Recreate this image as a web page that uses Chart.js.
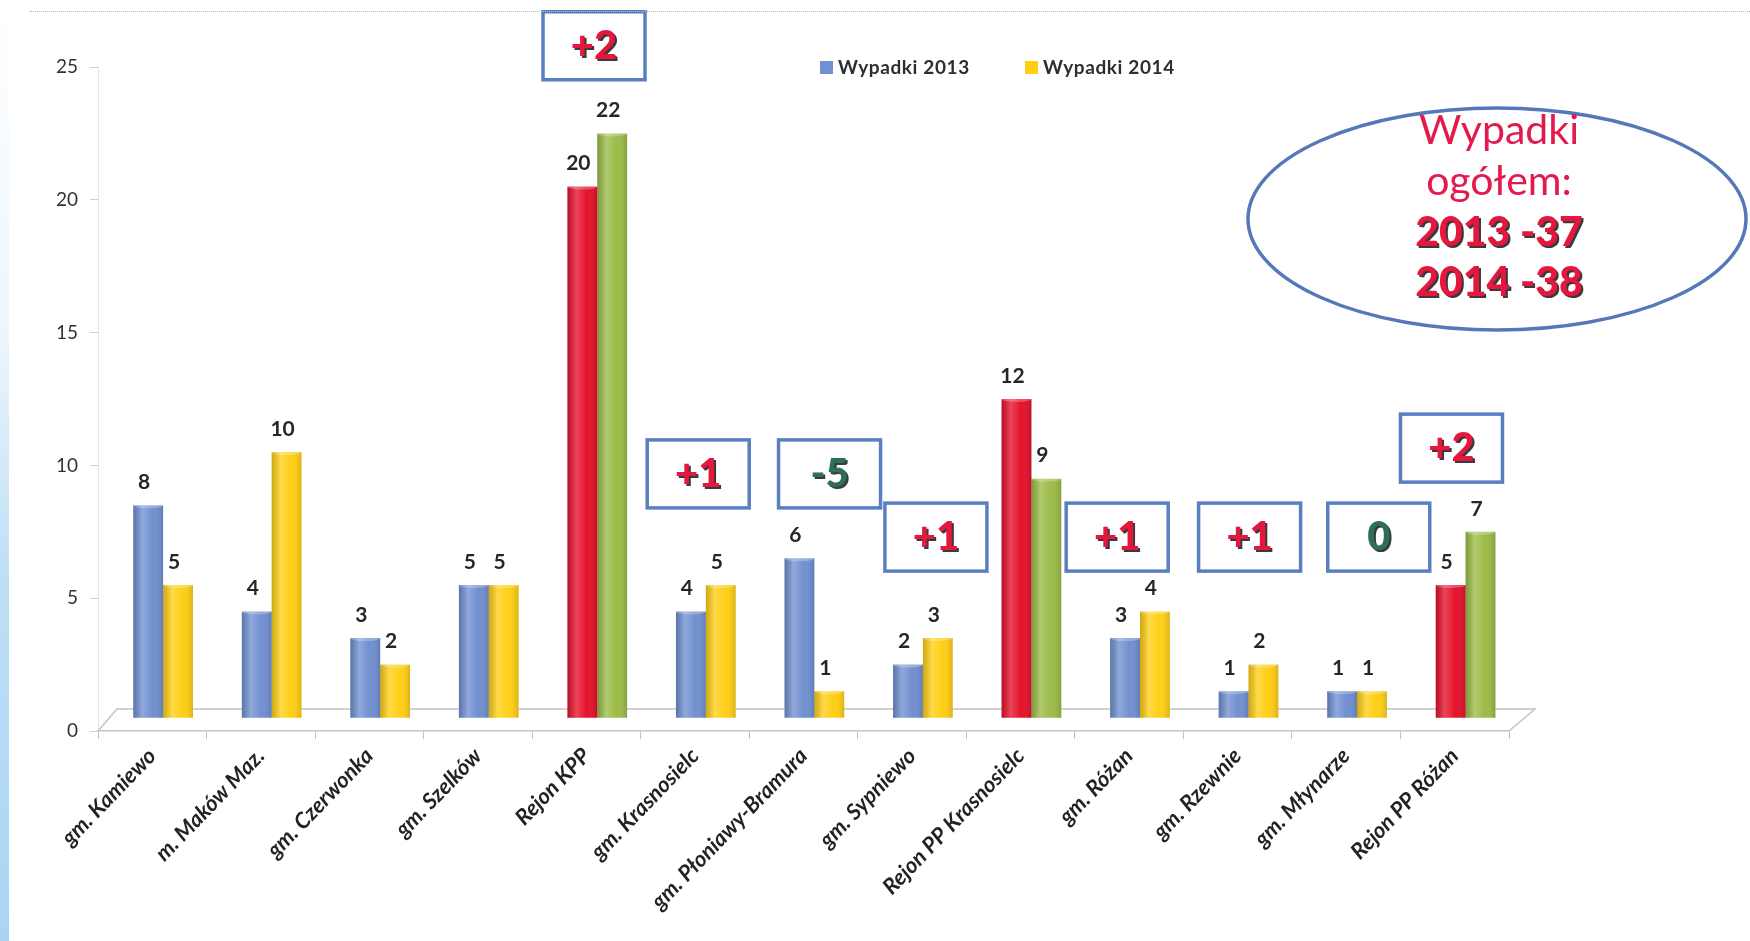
<!DOCTYPE html>
<html>
<head>
<meta charset="utf-8">
<script src="https://cdn.jsdelivr.net/npm/chart.js@4.4.1/dist/chart.umd.min.js"></script>
<style>
  html, body { margin: 0; padding: 0; background: #fff; }
  #wrap { position: relative; width: 1750px; height: 941px; overflow: hidden; }
  #scanEdge { position: absolute; left: 0; top: 0; width: 9px; height: 941px;
    background: linear-gradient(to bottom, #ffffff 0%, #eef6fc 35%, #bfe0f6 60%, #a9d4f3 100%); }
  #scanTop { position: absolute; left: 30px; top: 11px; width: 1720px; border-top: 1px dotted #b8b8b8; }
</style>
</head>
<body>
<div id="wrap">
  <canvas id="wypadki" width="1750" height="941"></canvas>
  <div id="scanEdge"></div>
  <div id="scanTop"></div>
</div>
<script>
const categories = ["gm. Kamiewo", "m. Maków Maz.", "gm. Czerwonka", "gm. Szelków", "Rejon KPP",
  "gm. Krasnosielc", "gm. Płoniawy-Bramura", "gm. Sypniewo", "Rejon PP Krasnosielc",
  "gm. Różan", "gm. Rzewnie", "gm. Młynarze", "Rejon PP Różan"]
const wypadki2013 = [8, 4, 3, 5, 20, 4, 6, 2, 12, 3, 1, 1, 5]
const wypadki2014 = [5, 10, 2, 5, 22, 5, 1, 3, 9, 4, 2, 1, 7]
const regionIdx = [4, 8, 12]          // rejony (sumy) - inne kolory
const calloutIdx = [4, 5, 6, 7, 9, 10, 11, 12]
const yTicks = [0, 5, 10, 15, 20, 25]
const totalsTitle = ["Wypadki", "ogółem:"]

// where the callout boxes sit: shift in category widths, height in axis units
const calloutPos = [
  {dx: 0.07, y: 25.8}, {dx: 0.03, y: 9.68}, {dx: 0.24, y: 9.68}, {dx: 0.22, y: 7.3},
  {dx: -0.11, y: 7.3}, {dx: 0.11, y: 7.3}, {dx: 0.30, y: 7.3}, {dx: -0.03, y: 10.65}
]
// 3D depth: bars stand a bit behind (right / up) the front axis
const depthX = 0.1, depthY = 0.5

const BLUE = "#7190d0", YELLOW = "#ffcf16", RED = "#e4122c", GREEN = "#9cbb48"
const FONT = "Lato, 'Open Sans', sans-serif"

const sum = (arr, idx) => idx.reduce((s, i) => s + arr[i], 0)
const toPoints = arr => arr.map((v, i) => ({x: i, y: v}))

const cv = document.getElementById("wypadki")

const floorPlugin = {
  id: "floor",
  beforeDatasetsDraw(chart) {
    const {ctx, chartArea: a} = chart
    const y0 = chart.scales.y.getPixelForValue(0)
    ctx.save()
    ctx.strokeStyle = "#c4c4c4"
    ctx.lineWidth = 1.5
    ctx.beginPath()
    ctx.moveTo(a.left, y0)
    ctx.lineTo(a.left + 19, y0 - 22)
    ctx.lineTo(a.right + 26, y0 - 22)
    ctx.lineTo(a.right, y0)
    ctx.stroke()
    ctx.restore()
  }
}

const barLook = {
  id: "barLook",
  afterDatasetsDraw(chart) {
    const ctx = chart.ctx
    ctx.save()
    chart.data.datasets.forEach((ds, di) => {
      chart.getDatasetMeta(di).data.forEach((bar, i) => {
        const w = bar.width, l = bar.x - w / 2
        const g = ctx.createLinearGradient(l, 0, l + w, 0)
        g.addColorStop(0, "rgba(0,0,0,0.18)")
        g.addColorStop(0.3, "rgba(255,255,255,0.22)")
        g.addColorStop(0.65, "rgba(255,255,255,0)")
        g.addColorStop(1, "rgba(0,0,0,0.14)")
        ctx.fillStyle = g
        ctx.fillRect(l, bar.y, w, bar.base - bar.y)
        ctx.fillStyle = "rgba(255,255,255,0.25)"
        ctx.beginPath()
        ctx.ellipse(bar.x, bar.y, w / 2, 3, 0, 0, Math.PI * 2)
        ctx.fill()
        ctx.fillStyle = "#262626"
        ctx.font = "bold 21px " + FONT
        ctx.textAlign = "center"
        ctx.textBaseline = "middle"
        ctx.fillText(String(ds.data[i].y), bar.x - 4, bar.y - 23)
      })
    })
    ctx.restore()
  }
}

function shadowText(ctx, txt, x, y, color) {
  ctx.fillStyle = "#3a3a3a"
  ctx.fillText(txt, x + 2, y + 2)
  ctx.fillStyle = color
  ctx.fillText(txt, x, y)
}

const extras = {
  id: "extras",
  afterDraw(chart) {
    const {ctx, scales} = chart
    const xs = scales.x, ys = scales.y
    const cw = xs.getPixelForValue(1) - xs.getPixelForValue(0)
    ctx.save()

    // legend
    ctx.font = "bold 19px " + FONT
    ctx.letterSpacing = "0.6px"
    ctx.textBaseline = "middle"
    ctx.textAlign = "left"
    const legendItems = [[BLUE, 820], [YELLOW, 1025]]
    chart.data.datasets.forEach((ds, k) => {
      const lx = legendItems[k][1]
      ctx.fillStyle = legendItems[k][0]
      ctx.fillRect(lx, 61, 13, 13)
      ctx.fillStyle = "#2b2f33"
      ctx.fillText(ds.label, lx + 18, 68)
    })
    ctx.letterSpacing = "0px"

    // callouts with the difference 2014 - 2013
    calloutIdx.forEach((ci, k) => {
      const d = wypadki2014[ci] - wypadki2013[ci]
      const txt = d > 0 ? "+" + d : String(d)
      const cx = xs.getPixelForValue(ci) + calloutPos[k].dx * cw
      const cy = ys.getPixelForValue(calloutPos[k].y)
      ctx.fillStyle = "#fff"
      ctx.fillRect(cx - 51, cy - 34, 102, 68)
      ctx.strokeStyle = "#5a7fc0"
      ctx.lineWidth = 3.5
      ctx.strokeRect(cx - 51, cy - 34, 102, 68)
      ctx.font = "900 40px " + FONT
      ctx.textAlign = "center"
      ctx.textBaseline = "middle"
      shadowText(ctx, txt, cx, cy, d > 0 ? "#e5173f" : "#2f6e5a")
    })

    // totals ellipse
    const ex = 1497, ey = 219
    ctx.fillStyle = "#fff"
    ctx.strokeStyle = "#5578b8"
    ctx.lineWidth = 3.5
    ctx.beginPath()
    ctx.ellipse(ex, ey, 249, 111, 0, 0, Math.PI * 2)
    ctx.fill()
    ctx.stroke()
    ctx.textAlign = "center"
    ctx.textBaseline = "middle"
    ctx.font = "41px " + FONT
    ctx.fillStyle = "#e31b4c"
    ctx.fillText(totalsTitle[0], ex + 2, 131)
    ctx.fillText(totalsTitle[1], ex + 2, 182)
    ctx.font = "900 41px " + FONT
    shadowText(ctx, "2013 -" + sum(wypadki2013, regionIdx), ex + 2, 233, "#e5173f")
    shadowText(ctx, "2014 -" + sum(wypadki2014, regionIdx), ex + 2, 283, "#e5173f")
    ctx.restore()
  }
}

new Chart(cv, {
  type: "bar",
  data: {
    labels: categories,
    datasets: [
      {label: "Wypadki 2013", data: toPoints(wypadki2013), xAxisID: "xb", yAxisID: "yb",
       backgroundColor: wypadki2013.map((v, i) => regionIdx.includes(i) ? RED : BLUE)},
      {label: "Wypadki 2014", data: toPoints(wypadki2014), xAxisID: "xb", yAxisID: "yb",
       backgroundColor: wypadki2014.map((v, i) => regionIdx.includes(i) ? GREEN : YELLOW)}
    ]
  },
  options: {
    responsive: false,
    animation: false,
    layout: {padding: {top: 67, right: 241, left: 0, bottom: 0}},
    datasets: {bar: {categoryPercentage: 0.55, barPercentage: 1.0}},
    scales: {
      x: {
        type: "category",
        grid: {display: true, drawOnChartArea: false, tickLength: 8, color: "#c4c4c4", offset: true},
        border: {display: true, color: "#c4c4c4", width: 1.5},
        ticks: {
          minRotation: 46, maxRotation: 46, autoSkip: false, padding: 4,
          color: "#1f2326", font: {family: FONT, size: 22, weight: "bold", style: "italic"}
        },
        afterFit(axis) { axis.height = 210 }
      },
      xb: {
        type: "linear", display: false, offset: false,
        min: -0.5 - depthX, max: categories.length - 0.5 - depthX,
        afterBuildTicks(axis) { axis.ticks = categories.map((c, i) => ({value: i})) }
      },
      y: {
        min: 0, max: 25,
        afterBuildTicks(axis) { axis.ticks = yTicks.map(v => ({value: v})) },
        grid: {display: true, drawOnChartArea: false, tickLength: 8, color: "#cfcfcf"},
        border: {display: true, color: "#e4e4e4"},
        ticks: {padding: 12, color: "#333", font: {family: FONT, size: 19}},
        afterFit(axis) { axis.width = 98 }
      },
      yb: {display: false, min: -depthY, max: 25 - depthY}
    },
    plugins: {
      legend: {display: false},
      tooltip: {enabled: false}
    }
  },
  plugins: [floorPlugin, barLook, extras]
})
</script>
</body>
</html>
